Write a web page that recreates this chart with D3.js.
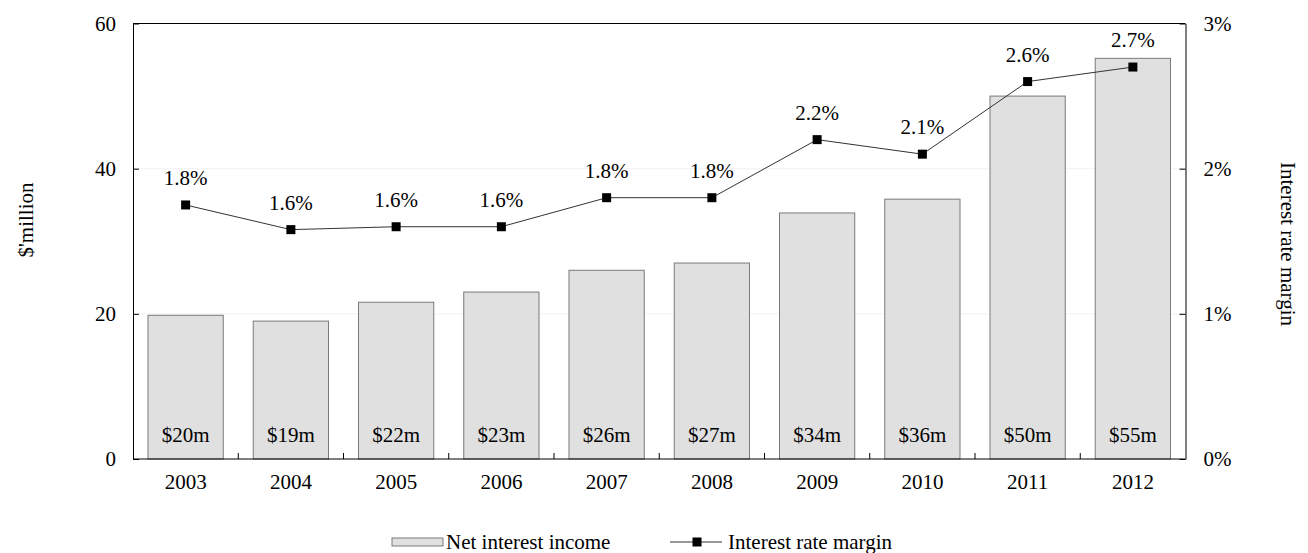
<!DOCTYPE html>
<html>
<head>
<meta charset="utf-8">
<script src="https://cdn.jsdelivr.net/npm/d3@7"></script>
<style>
  body { margin: 0; background: #fff; }
  svg text { font-family: "Liberation Serif", "DejaVu Serif", serif; fill: #000; }
</style>
</head>
<body>
<div id="chart"></div>
<script>
// data
const years = ["2003", "2004", "2005", "2006", "2007", "2008", "2009", "2010", "2011", "2012"];
const netIncome = [19.8, 19.0, 21.6, 23.0, 26.0, 27.0, 33.9, 35.8, 50.0, 55.2];
const incomeLabels = ["$20m", "$19m", "$22m", "$23m", "$26m", "$27m", "$34m", "$36m", "$50m", "$55m"];
const margin = [1.75, 1.58, 1.6, 1.6, 1.8, 1.8, 2.2, 2.1, 2.6, 2.7];
const marginLabels = ["1.8%", "1.6%", "1.6%", "1.6%", "1.8%", "1.8%", "2.2%", "2.1%", "2.6%", "2.7%"];
const leftTicks = [0, 20, 40, 60];
const rightTicks = [0, 1, 2, 3];

var width = 1308;
var height = 553;
var m = { top: 23.5, right: 122.5, bottom: 94, left: 133 };

var svg = d3.select("#chart")
    .append("svg")
    .attr("width", width)
    .attr("height", height);

// scales
const x = d3.scaleBand()
    .domain(years)
    .range([m.left, width - m.right])
    .paddingInner(0.285)
    .paddingOuter(0.1425);

const y = d3.scaleLinear()
    .domain([0, 60])
    .range([height - m.bottom, m.top]);

const y2 = d3.scaleLinear()
    .domain([0, 3])
    .range([height - m.bottom, m.top]);

const fs = "21px";

// faint gridlines
svg.append("g")
    .selectAll("line")
    .data(leftTicks.filter(d => d > 0 && d < 60))
    .join("line")
    .attr("x1", m.left)
    .attr("x2", width - m.right)
    .attr("y1", d => y(d))
    .attr("y2", d => y(d))
    .attr("stroke", "#f2f2f2");

// bars
svg.selectAll("rect.bar")
    .data(netIncome)
    .join("rect")
    .attr("class", "bar")
    .attr("x", (d, i) => x(years[i]))
    .attr("y", d => y(d))
    .attr("width", x.bandwidth())
    .attr("height", d => y(0) - y(d))
    .attr("fill", "#e0e0e0")
    .attr("stroke", "#7a7a7a")
    .attr("stroke-width", 1);

// bar labels
svg.selectAll("text.barlab")
    .data(incomeLabels)
    .join("text")
    .attr("class", "barlab")
    .attr("x", (d, i) => x(years[i]) + x.bandwidth() / 2)
    .attr("y", y(0) - 17)
    .attr("text-anchor", "middle")
    .style("font-size", fs)
    .text(d => d);

// left axis
const yAxis = svg.append("g")
    .attr("transform", `translate(${m.left},0)`)
    .call(d3.axisLeft(y).tickValues(leftTicks).tickSizeInner(-6).tickSizeOuter(0).tickPadding(17));
yAxis.attr("font-family", null).attr("font-size", null);
yAxis.selectAll("text").style("font-size", fs);

// right axis
const y2Axis = svg.append("g")
    .attr("transform", `translate(${width - m.right},0)`)
    .call(d3.axisRight(y2).tickValues(rightTicks).tickFormat(d => d + "%").tickSizeInner(-6).tickSizeOuter(0).tickPadding(18));
y2Axis.attr("font-family", null).attr("font-size", null);
y2Axis.selectAll("text").style("font-size", fs);

// bottom axis (labels only, ticks between categories)
const xAxis = svg.append("g")
    .attr("transform", `translate(0,${height - m.bottom})`)
    .call(d3.axisBottom(x).tickSize(0).tickPadding(15));
xAxis.attr("font-family", null).attr("font-size", null);
xAxis.selectAll("text").style("font-size", fs);
xAxis.select(".domain").remove();

svg.append("g")
    .selectAll("line")
    .data(years.slice(1))
    .join("line")
    .attr("x1", d => x(d) - x.step() * x.paddingInner() / 2)
    .attr("x2", d => x(d) - x.step() * x.paddingInner() / 2)
    .attr("y1", y(0))
    .attr("y2", y(0) - 6)
    .attr("stroke", "#000");

// frame: top and bottom lines
svg.append("line")
    .attr("x1", m.left).attr("x2", width - m.right)
    .attr("y1", y(0)).attr("y2", y(0))
    .attr("stroke", "#000");
svg.append("line")
    .attr("x1", m.left).attr("x2", width - m.right)
    .attr("y1", y(60)).attr("y2", y(60))
    .attr("stroke", "#000");
svg.selectAll(".domain").attr("stroke", "#000");

// margin line
const line = d3.line()
    .x((d, i) => x(years[i]) + x.bandwidth() / 2)
    .y(d => y2(d));

svg.append("path")
    .datum(margin)
    .attr("d", line)
    .attr("fill", "none")
    .attr("stroke", "#333")
    .attr("stroke-width", 1);

svg.selectAll("rect.pt")
    .data(margin)
    .join("rect")
    .attr("class", "pt")
    .attr("x", (d, i) => x(years[i]) + x.bandwidth() / 2 - 4.5)
    .attr("y", d => y2(d) - 4.5)
    .attr("width", 9)
    .attr("height", 9)
    .attr("fill", "#000");

svg.selectAll("text.ptlab")
    .data(marginLabels)
    .join("text")
    .attr("class", "ptlab")
    .attr("x", (d, i) => x(years[i]) + x.bandwidth() / 2)
    .attr("y", (d, i) => y2(margin[i]) - 20)
    .attr("text-anchor", "middle")
    .style("font-size", fs)
    .text(d => d);

// axis titles
svg.append("text")
    .attr("transform", `translate(33,220) rotate(-90)`)
    .attr("text-anchor", "middle")
    .style("font-size", fs)
    .text("$'million");

svg.append("text")
    .attr("transform", `translate(1281,244) rotate(90)`)
    .attr("text-anchor", "middle")
    .style("font-size", fs)
    .text("Interest rate margin");

// legend
const lg = svg.append("g");
lg.append("rect")
    .attr("x", 392)
    .attr("y", 538)
    .attr("width", 51)
    .attr("height", 8)
    .attr("fill", "#e0e0e0")
    .attr("stroke", "#7a7a7a");
lg.append("text")
    .attr("x", 446)
    .attr("y", 549)
    .style("font-size", fs)
    .text("Net interest income");

lg.append("line")
    .attr("x1", 670).attr("x2", 722)
    .attr("y1", 542).attr("y2", 542)
    .attr("stroke", "#333");
lg.append("rect")
    .attr("x", 692.5)
    .attr("y", 537.5)
    .attr("width", 9)
    .attr("height", 9)
    .attr("fill", "#000");
lg.append("text")
    .attr("x", 728)
    .attr("y", 549)
    .style("font-size", fs)
    .text("Interest rate margin");
</script>
</body>
</html>
